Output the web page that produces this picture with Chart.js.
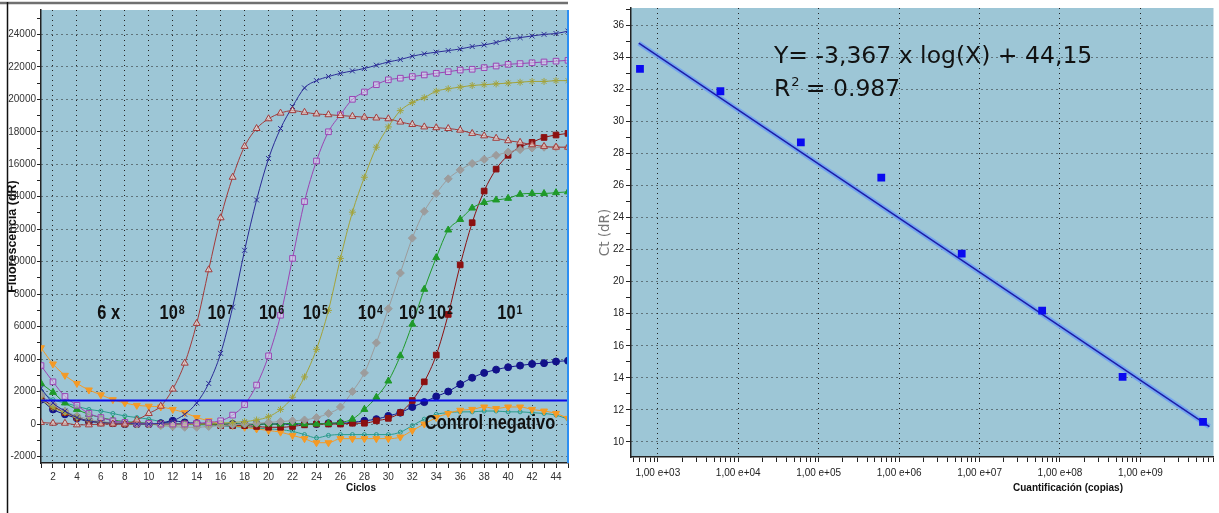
<!DOCTYPE html>
<html>
<head>
<meta charset="utf-8">
<script src="https://cdn.jsdelivr.net/npm/chart.js@4.4.1/dist/chart.umd.min.js"></script>
<style>
  html, body { margin: 0; padding: 0; background: #fff; }
  #wrap { position: relative; width: 1219px; height: 513px; overflow: hidden; }
  #pcr { position: absolute; left: 0; top: 0; }
  #std { position: absolute; left: 580px; top: 0; }
</style>
</head>
<body>
<div id="wrap">
  <canvas id="pcr" width="580" height="513"></canvas>
  <canvas id="std" width="639" height="513"></canvas>
</div>
<script>
// ---- amplification curves (fluorescence dR per cycle) ----
const cycles = [1,2,3,4,5,6,7,8,9,10,11,12,13,14,15,16,17,18,19,20,21,22,23,24,25,26,27,28,29,30,31,32,33,34,35,36,37,38,39,40,41,42,43,44,45];
const fluorTicks = [-2000,0,2000,4000,6000,8000,10000,12000,14000,16000,18000,20000,22000,24000];

const cp1e8 = [100,50,50,-50,-50,0,0,0,250,650, 1100,2150,3750,6200,9500,12700,15200,17100,18200,18800, 19150,19300,19200,19100,19050,19000,18950,18900,18850,18800, 18600,18450,18300,18250,18200,18100,17900,17750,17600,17450, 17350,17200,17100,17050,17050];
const cp1e7 = [2200,1300,800,400,200,100,50,50,0,0, 50,200,600,1300,2500,4350,7200,10700,13800,16350, 18200,19550,20700,21150,21400,21600,21750,21900,22100,22300, 22450,22650,22800,22900,23000,23100,23250,23350,23500,23700, 23800,23900,24000,24050,24200];
const cp1e6 = [3600,2600,1700,1150,650,400,200,100,50,50, 0,0,0,50,100,200,550,1200,2400,4200, 6700,10200,13700,16200,18000,19050,20000,20450,20900,21200, 21300,21400,21500,21600,21700,21800,21850,21950,22050,22150, 22200,22250,22300,22350,22400];
const cp1e5 = [1500,1000,700,400,200,100,50,0,0,0, -50,-50,-50,0,0,50,100,150,250,450, 900,1650,2900,4600,7000,10200,13050,15200,17050,18300, 19300,19800,20100,20500,20650,20750,20850,20900,20950,21000, 21050,21100,21100,21150,21150];
const cp1e4 = [1800,1200,800,500,300,150,100,50,0,0, -100,-150,-200,-200,-150,-100,-50,0,50,100, 150,200,250,400,650,1050,2000,3150,5000,7100, 9300,11450,13100,14200,15100,15650,16050,16300,16550,16750, 16900,17000,17050,17050,17050];
const cp1e3 = [2500,1950,1300,900,600,400,250,150,100,50, 0,0,0,0,0,0,0,0,0,0, 0,50,0,0,50,100,300,900,1650,2650, 4200,6150,8300,10250,11950,12600,13300,13650,13800,13900, 14150,14200,14200,14250,14300];
const cp1e2 = [1600,1100,700,400,200,100,50,0,0,0, 0,0,0,0,0,-100,-100,-100,-150,-200, -200,-150,-50,0,0,0,50,50,200,350, 700,1450,2600,4250,6750,9800,12400,14350,15700,16550, 17050,17350,17650,17800,17900];
const cp1e1 = [1500,900,600,350,150,100,50,0,0,0, 50,200,100,50,0,0,0,0,0,0, 0,0,0,0,50,50,100,200,300,500, 700,1050,1350,1700,2000,2450,2850,3150,3350,3500, 3600,3700,3750,3850,3900];
const negA = [4700,3700,3000,2500,2100,1800,1500,1300,1150,1100, 1050,900,700,400,200,0,-100,-200,-300,-400, -500,-700,-900,-1150,-1150,-900,-900,-900,-900,-900, -800,-400,0,400,650,850,900,1050,950,1050, 1050,900,800,650,350];
const negB = [2000,1500,1300,1100,900,800,650,500,400,300, 150,50,0,-50,-50,-100,-150,-200,-250,-300, -350,-450,-650,-850,-700,-650,-650,-650,-650,-650, -500,-100,300,600,700,750,750,800,800,750, 750,700,650,550,300];
const threshold = 1450;

// ---- standard curve ----
const copies = [6e2, 6e3, 6e4, 6e5, 6e6, 6e7, 6e8, 6e9];
const ctMeasured = [33.3, 31.9, 28.7, 26.5, 21.75, 18.2, 14.05, 11.25];
const fitCopies = [580, 7.2e9];
const fitCt = [34.9, 10.95];

const SANS = '"Liberation Sans", Arial, sans-serif';
const PLOT_BG = '#9dc6d6';
const DOT = [1, 4];

function curve(data, color, pointStyle, fill, extra) {
    return Object.assign({
        data,
        borderColor: color,
        borderWidth: 1,
        pointStyle,
        pointRadius: 3.5,
        pointBorderColor: color,
        pointBorderWidth: 1,
        pointBackgroundColor: fill,
        cubicInterpolationMode: 'monotone',
    }, extra || {});
}

// Arial Narrow look-alike: bold Liberation Sans squeezed horizontally
const SQUEEZE = 0.82;
function narrowText(ctx, text, x, y, size) {
    ctx.save();
    ctx.font = 'bold ' + size + 'px ' + SANS;
    ctx.textAlign = 'left';
    ctx.textBaseline = 'alphabetic';
    ctx.translate(x, y);
    ctx.scale(SQUEEZE, 1);
    ctx.fillText(text, 0, 0);
    const w = ctx.measureText(text).width * SQUEEZE;
    ctx.restore();
    return w;
}

function power(ctx, base, exp, x, y) {
    const w = narrowText(ctx, base, x, y, 20);
    if (exp) narrowText(ctx, exp, x + w + 1, y - 5, 13);
}

// dilution labels placed in data units (cycle, dR)
const dilNotes = [
    ['6 x', '', 5.7], ['10', '8', 10.9], ['10', '7', 14.9], ['10', '6', 19.2],
    ['10', '5', 22.85], ['10', '4', 27.45], ['10', '3', 30.9], ['10', '2', 33.3], ['10', '1', 39.1],
];

const pcrDecor = {
    id: 'pcrDecor',
    beforeDraw(chart) {
        const { ctx, chartArea: a } = chart;
        ctx.save();
        ctx.fillStyle = PLOT_BG;
        ctx.fillRect(a.left, a.top, a.right - a.left, a.bottom - a.top);
        ctx.restore();
    },
    afterDraw(chart) {
        const { ctx, chartArea: a, scales } = chart;
        ctx.save();
        // plot right border
        ctx.strokeStyle = '#2b8ef2';
        ctx.lineWidth = 2;
        ctx.beginPath();
        ctx.moveTo(a.right, a.top);
        ctx.lineTo(a.right, a.bottom);
        ctx.stroke();
        // panel frame
        ctx.strokeStyle = '#707070';
        ctx.lineWidth = 2.5;
        ctx.beginPath();
        ctx.moveTo(0, 3);
        ctx.lineTo(a.right, 3);
        ctx.stroke();
        ctx.strokeStyle = '#111';
        ctx.lineWidth = 1.5;
        ctx.beginPath();
        ctx.moveTo(7.5, 2);
        ctx.lineTo(7.5, 513);
        ctx.stroke();

        ctx.fillStyle = '#111';
        const yy = scales.y.getPixelForValue(6900) + 7;
        dilNotes.forEach(([b, e, c]) => power(ctx, b, e, scales.x.getPixelForValue(c), yy));
        narrowText(ctx, 'Control negativo', scales.x.getPixelForValue(33.05),
            scales.y.getPixelForValue(100) + 7, 20);

        ctx.font = 'bold 10px ' + SANS;
        ctx.textAlign = 'center';
        ctx.textBaseline = 'middle';
        ctx.fillText('Ciclos', 361, 488);
        ctx.restore();
    },
};

const tickFont = { family: SANS, size: 10 };

new Chart(document.getElementById('pcr'), {
    type: 'line',
    data: {
        labels: cycles,
        datasets: [
            {
                data: [{ x: cycles[0], y: threshold }, { x: cycles[cycles.length - 1], y: threshold }],
                borderColor: '#0b0be8', borderWidth: 2, pointRadius: 0,
            },
            curve(cp1e8, '#a33a3a', 'triangle', 'rgba(255,225,215,0.55)', { pointRadius: 4 }),
            curve(cp1e7, '#2b2b96', 'crossRot', '#2b2b96'),
            curve(cp1e6, '#9b44b4', 'rect', 'rgba(235,205,245,0.5)', { pointRadius: 4 }),
            curve(cp1e5, '#a3a33a', 'star', '#a3a33a'),
            curve(cp1e4, '#9c9c9c', 'rectRot', '#9c9c9c', { pointRadius: 4 }),
            curve(cp1e3, '#1f9a2a', 'triangle', '#1f9a2a', { pointRadius: 4 }),
            curve(cp1e2, '#8c1010', 'rect', '#8c1010', { pointRadius: 4 }),
            curve(cp1e1, '#12128a', 'circle', '#12128a'),
            curve(negA, '#f59a25', 'triangle', '#f59a25', { pointRadius: 4, pointRotation: 180 }),
            curve(negB, '#2a9c8c', 'circle', 'rgba(0,0,0,0)', { pointRadius: 2 }),
        ],
    },
    options: {
        responsive: false,
        animation: false,
        layout: { padding: { top: 10, right: 12, left: 0, bottom: 0 } },
        plugins: { legend: { display: false }, tooltip: { enabled: false } },
        scales: {
            x: {
                type: 'linear',
                min: 1,
                max: 45,
                afterFit: (s) => { s.height = 50; },
                ticks: {
                    stepSize: 1, autoSkip: false, maxRotation: 0, padding: 3,
                    font: tickFont, color: '#333',
                    callback: (v) => (v % 2 === 0 ? String(v) : ''),
                },
                grid: {
                    color: (c) => (c.tick && c.tick.value % 2 === 0 ? '#222' : 'rgba(0,0,0,0)'),
                    tickColor: '#222', tickLength: 5, tickBorderDash: [],
                },
                border: { color: '#222', width: 1.5, dash: DOT },
            },
            y: {
                min: -2400,
                max: 25500,
                afterFit: (s) => { s.width = 41; },
                // labelled ticks every 2000 plus an unlabelled tick in between
                afterBuildTicks: (s) => {
                    const t = [];
                    fluorTicks.forEach((v) => {
                        t.push({ value: v });
                        if (v + 1000 <= s.max) t.push({ value: v + 1000 });
                    });
                    s.ticks = t;
                },
                ticks: {
                    autoSkip: false, padding: 1,
                    font: tickFont, color: '#333',
                    callback: (v) => (fluorTicks.includes(v) ? String(v) : ''),
                },
                grid: {
                    color: (c) => (c.tick && fluorTicks.includes(c.tick.value) ? '#222' : 'rgba(0,0,0,0)'),
                    tickColor: '#222', tickLength: 4, tickBorderDash: [],
                },
                border: { color: '#222', width: 1.5, dash: DOT },
                title: {
                    display: true, text: 'Fluorescencia (dR)', color: '#111',
                    font: { family: SANS, size: 12.5, weight: 'bold' },
                    padding: { top: 5, bottom: 0 },
                },
            },
        },
    },
    plugins: [pcrDecor],
});

// ---- standard curve panel ----
const isDecade = (v) => {
    const e = Math.log10(v);
    return Math.abs(e - Math.round(e)) < 1e-9;
};

const stdDecor = {
    id: 'stdDecor',
    beforeDraw(chart) {
        const { ctx, chartArea: a } = chart;
        ctx.save();
        ctx.fillStyle = PLOT_BG;
        ctx.fillRect(a.left, a.top, a.right - a.left, a.bottom - a.top);
        ctx.restore();
    },
    afterDraw(chart) {
        const { ctx } = chart;
        ctx.save();
        ctx.fillStyle = '#111';
        ctx.textAlign = 'left';
        ctx.textBaseline = 'alphabetic';
        ctx.font = '23.5px "DejaVu Sans", Verdana, sans-serif';
        ctx.fillText('Y= -3,367 x log(X) + 44,15', 194, 63);
        ctx.fillText('R', 194, 96);
        const rw = ctx.measureText('R').width;
        ctx.fillText(' = 0.987', 194 + rw + 8, 96);
        ctx.font = '13px "DejaVu Sans", Verdana, sans-serif';
        ctx.fillText('2', 194 + rw + 1, 86);

        ctx.font = 'bold 10px ' + SANS;
        ctx.textAlign = 'center';
        ctx.textBaseline = 'middle';
        ctx.fillText('Cuantificación (copias)', 488, 488);
        ctx.restore();
    },
};

new Chart(document.getElementById('std'), {
    type: 'scatter',
    data: {
        datasets: [
            {
                data: copies.map((c, i) => ({ x: c, y: ctMeasured[i] })),
                pointStyle: 'rect', pointRadius: 5.5,
                pointBackgroundColor: '#0a0af0', pointBorderColor: '#0a0af0', pointBorderWidth: 0,
            },
            {
                data: fitCopies.map((c, i) => ({ x: c, y: fitCt[i] })),
                showLine: true, borderColor: '#1c1ca8', borderWidth: 1.5, pointRadius: 0,
            },
            {
                data: fitCopies.map((c, i) => ({ x: c, y: fitCt[i] })),
                showLine: true, borderColor: 'rgba(110,160,245,0.85)', borderWidth: 5, pointRadius: 0,
            },
        ],
    },
    options: {
        responsive: false,
        animation: false,
        layout: { padding: { top: 8, right: 0, left: 0, bottom: 0 } },
        plugins: { legend: { display: false }, tooltip: { enabled: false } },
        scales: {
            x: {
                type: 'logarithmic',
                min: 464,
                max: 8.1e9,
                afterFit: (s) => { s.height = 56; },
                afterBuildTicks: (s) => {
                    s.ticks = s.ticks.filter((t) => {
                        const m = t.value / Math.pow(10, Math.floor(Math.log10(t.value) + 1e-9));
                        return Math.abs(m - Math.round(m)) < 1e-6;
                    });
                },
                ticks: {
                    autoSkip: false, maxRotation: 0, padding: 5,
                    font: tickFont, color: '#222',
                    callback: (v) => (isDecade(v)
                        ? '1,00 e+' + String(Math.round(Math.log10(v))).padStart(2, '0') : ''),
                },
                grid: {
                    color: (c) => (c.tick && isDecade(c.tick.value) ? '#222' : 'rgba(0,0,0,0)'),
                    tickColor: '#222', tickLength: 5, tickBorderDash: [],
                },
                border: { color: '#222', width: 1.5, dash: DOT },
            },
            y: {
                min: 9.05,
                max: 37.1,
                afterFit: (s) => { s.width = 51; },
                ticks: {
                    stepSize: 1, includeBounds: false, autoSkip: false, padding: 2,
                    font: tickFont, color: '#222',
                    callback: (v) => (v % 2 === 0 ? String(v) : ''),
                },
                grid: {
                    color: (c) => (c.tick && c.tick.value % 2 === 0 ? '#222' : 'rgba(0,0,0,0)'),
                    tickColor: '#222', tickLength: 5, tickBorderDash: [],
                },
                border: { color: '#222', width: 1.5, dash: DOT },
                title: {
                    display: true, text: 'Ct (dR)', color: '#777',
                    font: { family: '"DejaVu Sans", sans-serif', size: 13.5 },
                    padding: { top: 17, bottom: 0 },
                },
            },
        },
    },
    plugins: [stdDecor],
});
</script>
</body>
</html>
